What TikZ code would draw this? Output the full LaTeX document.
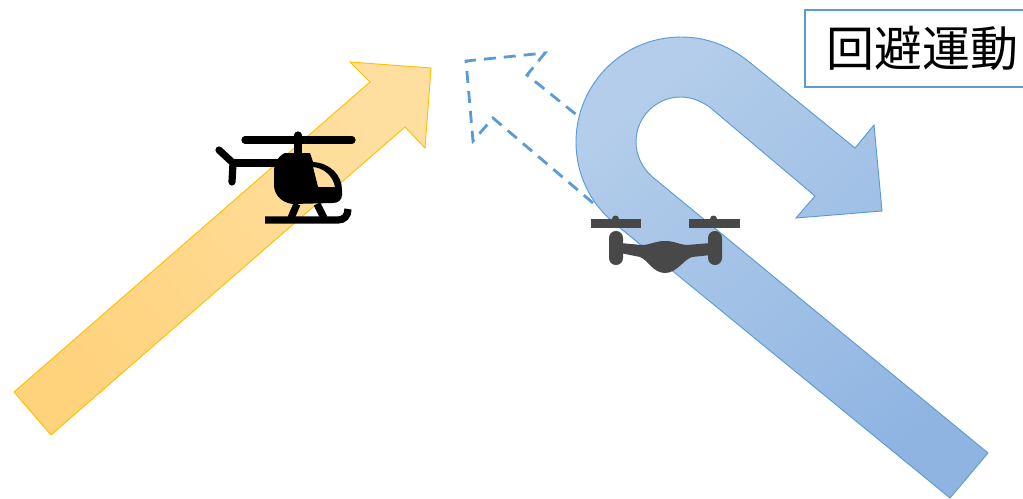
\documentclass[tikz,border=0pt]{standalone}
\usepackage{fontspec}
\newfontfamily\cjkfont{Noto Sans CJK JP}
\usepackage{tikz}
\usetikzlibrary{arrows.meta, positioning, calc}
\definecolor{evOrangeA}{HTML}{FFDFA0}
\definecolor{evOrangeB}{HTML}{FFD27C}
\definecolor{evOrangeEdge}{HTML}{FFC000}
\definecolor{evBlueA}{HTML}{B3CDEA}
\definecolor{evBlueB}{HTML}{8FB4E2}
\definecolor{evBlueEdge}{HTML}{5B9BD5}
\definecolor{evDrone}{HTML}{484848}
\tikzset{
  evpath/.style={draw=evOrangeEdge, line width=0.7pt, line join=miter,
    left color=evOrangeB, right color=evOrangeA, shading angle=130},
  evturn/.style={draw=evBlueEdge, line width=0.7pt, line join=miter,
    left color=evBlueA, right color=evBlueB, shading angle=40},
  evdash/.style={draw=evBlueEdge, line width=2.1pt, dash pattern=on 9pt off 6pt},
  evlabel/.style={draw=evBlueEdge, line width=2.2pt, fill=white, minimum width=175.5pt,
    minimum height=57.75pt, inner sep=0pt, font=\cjkfont\fontsize{36}{36}\selectfont},
  evheli/.style={draw=black, line width=5.4pt, line cap=round},
}
\begin{document}
\begin{tikzpicture}[x=0.75pt, y=-0.75pt]
\useasboundingbox (0,0) rectangle (1023,499);
\clip (0,0) rectangle (1023,499);

% Paths -------------------------------------------------------------------
\path[evpath] (14,392) -- (370,82) -- (350,62) -- (431,68) -- (425,148)
  -- (405,127) -- (51,435) -- cycle;

\draw[evdash] (593,203) -- (493,118) -- (473,141) -- (466,61) -- (545,53)
  -- (527,75) -- (578,116);

\path[evturn] (950,498) -- (614,223)
  .. controls (590,203) and (576,174) .. (576,142)
  .. controls (576,84) and (623,37) .. (681,37)
  .. controls (705,37) and (728,45) .. (748,61)
  -- (855,148) -- (874,125) -- (882,211) -- (796,218) -- (815,196)
  -- (709.5,107)
  .. controls (701,101) and (691,97) .. (681,97)
  .. controls (656,97) and (636,117) .. (636,142)
  .. controls (636,155) and (642,168) .. (652.5,177)
  -- (988,453) -- cycle;

% Helicopter --------------------------------------------------------------
\draw[evheli] (245,140) -- (352,140);
\draw[evheli] (298,135) -- (298,156);
\draw[evheli] (233,163) -- (285,163);
\draw[evheli] (219,150) -- (233,163) -- (232,182);
\fill[black, even odd rule] (285,153) -- (310,153) -- (313,162)
  .. controls (330,163) and (342,175) .. (342,190)
  -- (342,195) .. controls (342,200) and (338,203) .. (333,203)
  -- (293,204) .. controls (282,203) and (274,195) .. (274,185)
  -- (274,170) .. controls (274,163) and (278,156) .. (285,153) -- cycle
  (313,167) .. controls (324,168) and (333,176) .. (335,187)
  -- (318,187) -- cycle;
\draw[evheli, line cap=butt] (297,204) -- (291,218);
\draw[evheli, line cap=butt] (317,204) -- (324,218);
\draw[evheli, line cap=butt] (265,220) -- (338,220)
  .. controls (344,220) and (348,216) .. (348,209);

% Drone -------------------------------------------------------------------
\fill[evDrone] (591,219) rectangle (641,228);
\fill[evDrone] (689,219) rectangle (740,228);
\fill[evDrone] (612,219) arc (180:360:3.5);
\fill[evDrone] (710,219) arc (180:360:3.5);
\fill[evDrone, rounded corners=5.2pt] (609,231) rectangle (623,265);
\fill[evDrone, rounded corners=5.2pt] (708,231) rectangle (722,265);
\fill[evDrone] (620,243) -- (642,245) .. controls (650,245) and (655,241) .. (665,241)
  .. controls (675,241) and (680,245) .. (687,245) -- (711,243) -- (711,255)
  -- (692,257) .. controls (683,260) and (677,273) .. (665,273)
  .. controls (653,273) and (648,260) .. (640,257) -- (620,253) -- cycle;

% Label -------------------------------------------------------------------
\node[evlabel] (evname) at (922,48.5) {\raisebox{-1.5pt}{回避運動}};

\end{tikzpicture}
\end{document}
